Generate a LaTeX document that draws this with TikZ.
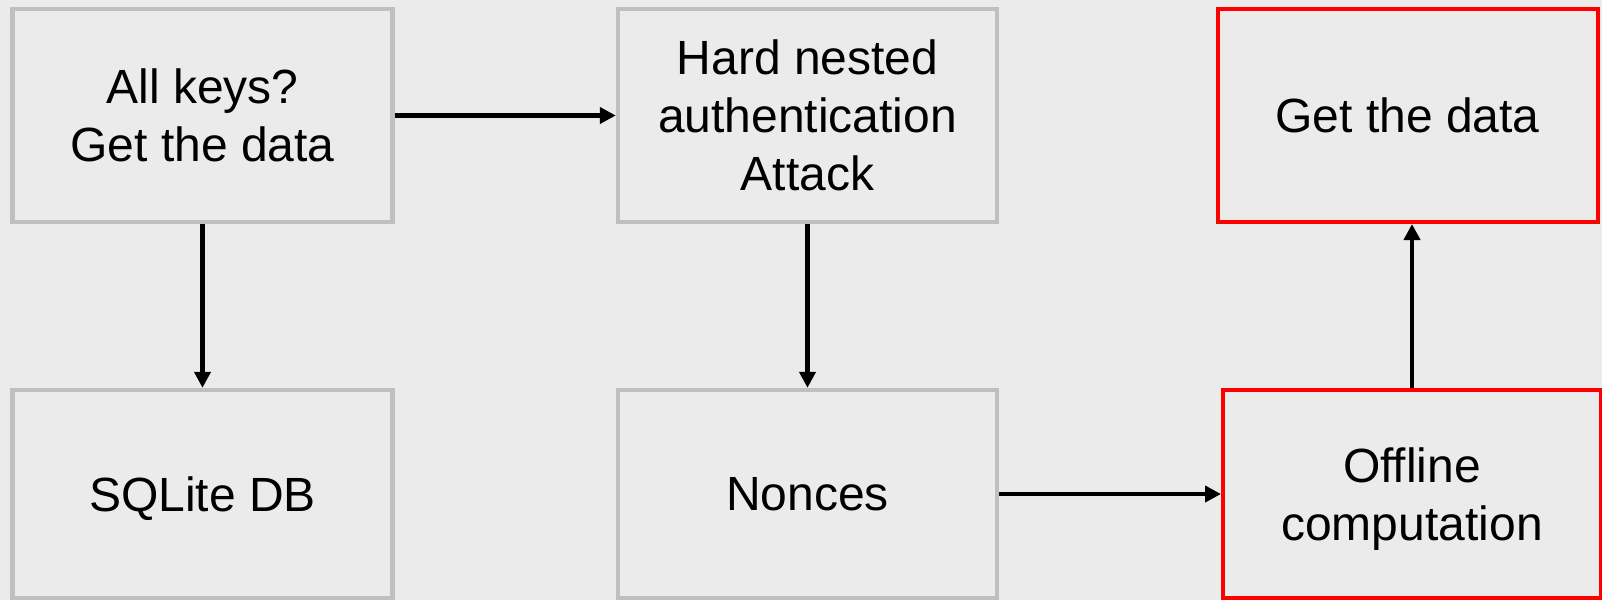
\documentclass[tikz,border=0pt]{standalone}
\usepackage{fontspec}
\setmainfont{Liberation Sans}
\usetikzlibrary{arrows.meta}
\definecolor{bgcol}{HTML}{EBEBEB}
\definecolor{boxgray}{HTML}{BFBFBF}
\definecolor{boxred}{HTML}{FF0000}

\begin{document}
\begin{tikzpicture}
        [
        x=0.5pt, y=-0.5pt,
        box/.style={rectangle, draw=boxgray, line width=2.2pt, minimum width=190pt, minimum height=106.5pt, align=center, font=\fontsize{24}{29}\selectfont, inner sep=0pt, text depth=0pt},
        lowbox/.style={box, minimum height=104pt},
        hot/.style={draw=boxred, line width=2pt},
        flow/.style={-{Triangle[length=8pt,width=8pt]}, line width=2.2pt}
        ]

        \fill[bgcol] (0,0) rectangle (1602,600);
        \useasboundingbox (0,0) rectangle (1602,600);

        \node[box] (keys) at (202.5,115.5) {All keys?\\Get the data};
        \node[box, minimum width=189.5pt] (hard) at (807.5,115.5) {Hard nested\\authentication\\Attack};
        \node[box, hot] (data) at (1407.5,115.5) {Get the data};

        \node[lowbox] (sqlite) at (202.5,494) {SQLite DB};
        \node[lowbox, minimum width=189.5pt] (nonces) at (807.5,494) {Nonces};
        \node[lowbox, hot, minimum width=189pt] (offline) at (1412,494) {Offline\\computation};

        \draw[flow] (keys) -- (hard);
        \draw[flow] (keys) -- (sqlite);
        \draw[flow] (hard) -- (nonces);
        \draw[flow] (nonces) -- (offline);
        \draw[flow] (offline.north) -- (offline.north |- data.south);

    \end{tikzpicture}
\end{document}
